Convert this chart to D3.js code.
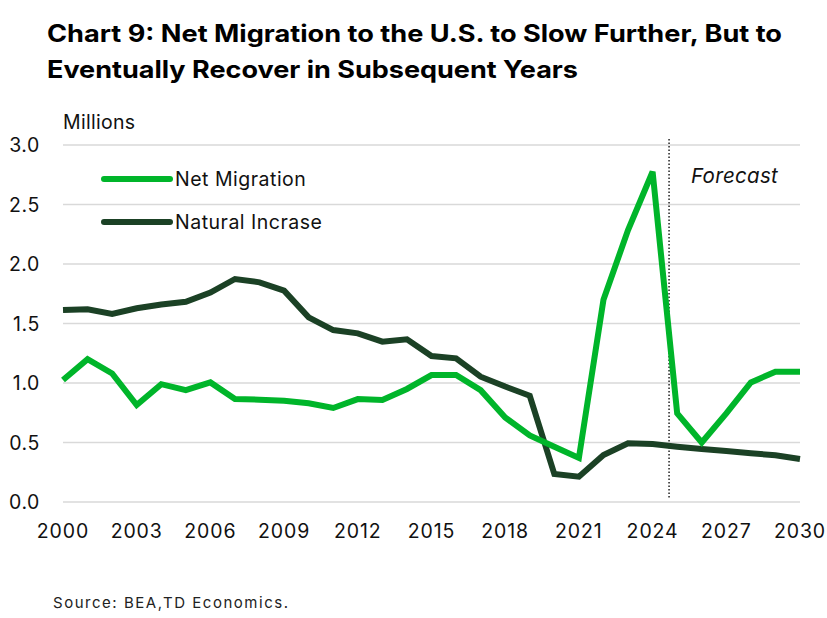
<!DOCTYPE html>
<html><head><meta charset="utf-8">
<script src="https://cdn.jsdelivr.net/npm/d3@7"></script>
<style>body{margin:0;background:#fff}svg{display:block}text{font-family:Inter,"Noto Sans",sans-serif}</style>
</head><body>
<script>
const years = d3.range(2000, 2031);
const netMigration = [1.025,1.20,1.08,0.815,0.99,0.94,1.005,0.865,0.86,0.85,0.83,0.79,0.865,0.857,0.95,1.067,1.067,0.94,0.71,0.56,0.465,0.37,1.70,2.285,2.775,0.745,0.50,0.745,1.005,1.095,1.095];
const naturalIncrease = [1.613,1.62,1.58,1.628,1.66,1.683,1.76,1.874,1.846,1.776,1.552,1.445,1.417,1.347,1.367,1.227,1.207,1.053,0.97,0.893,0.235,0.213,0.395,0.493,0.487,0.465,0.445,0.428,0.41,0.392,0.361];
const yTicks = [0,0.5,1.0,1.5,2.0,2.5,3.0];
const xTicks = [2000,2003,2006,2009,2012,2015,2018,2021,2024,2027,2030];
const forecastStart = 2024.67;
const seriesNames = ["Net Migration","Natural Incrase"];
const colors = ["#00b52a","#1b4125"];

const W = 827, H = 618;
const svg = d3.select("body").append("svg").attr("width",W).attr("height",H);
const x = d3.scaleLinear().domain([2000,2030]).range([63,800]);
const y = d3.scaleLinear().domain([0,3]).range([502,145]);

// title
const title = svg.append("text").attr("font-weight",700).attr("font-size",24).attr("fill","#000");
title.append("tspan").attr("x",47).attr("y",42).attr("textLength",735).attr("lengthAdjust","spacingAndGlyphs")
  .text("Chart 9: Net Migration to the U.S. to Slow Further, But to");
title.append("tspan").attr("x",47).attr("y",78).attr("textLength",531).attr("lengthAdjust","spacingAndGlyphs")
  .text("Eventually Recover in Subsequent Years");

// grid
svg.append("g").selectAll("line").data(yTicks).join("line")
  .attr("x1",63).attr("x2",800).attr("y1",d=>y(d)).attr("y2",d=>y(d))
  .attr("stroke","#d9d9d9").attr("stroke-width",1.5);

// y labels
svg.append("g").selectAll("text").data(yTicks).join("text")
  .attr("x",40).attr("y",d=>y(d)+7).attr("text-anchor","end")
  .attr("font-size",19.5).attr("letter-spacing",0.6).attr("fill","#111").text(d=>d.toFixed(1));
svg.append("text").attr("x",63).attr("y",129).attr("font-size",19.5).attr("letter-spacing",0.3).attr("fill","#111").text("Millions");

// x labels
svg.append("g").selectAll("text").data(xTicks).join("text")
  .attr("x",d=>x(d)).attr("y",538).attr("text-anchor","middle")
  .attr("font-size",19.5).attr("letter-spacing",0.9).attr("fill","#111").text(d=>d);

// forecast line
svg.append("line").attr("x1",x(forecastStart)).attr("x2",x(forecastStart)).attr("y1",139).attr("y2",499)
  .attr("stroke","#222").attr("stroke-width",1.5).attr("stroke-dasharray","1.5,2");
svg.append("text").attr("x",691).attr("y",183).attr("font-size",20.5).attr("font-style","italic").attr("letter-spacing",0.3).attr("fill","#111").text("Forecast");

// lines
const line = d3.line().x((d,i)=>x(years[i])).y(d=>y(d));
[naturalIncrease, netMigration].forEach((s,k)=>{
  const idx = k===0?1:0;
  svg.append("path").attr("d",line(s)).attr("fill","none").attr("stroke",colors[idx])
    .attr("stroke-width",6).attr("stroke-linejoin","miter");
});

// legend
seriesNames.forEach((n,i)=>{
  const ly = 179 + i*43;
  svg.append("line").attr("x1",104).attr("x2",170).attr("y1",ly).attr("y2",ly)
    .attr("stroke",colors[i]).attr("stroke-width",6).attr("stroke-linecap","round");
  svg.append("text").attr("x",175).attr("y",ly+7).attr("font-size",19.5).attr("letter-spacing",0.5).attr("fill","#111").text(n);
});

svg.append("text").attr("x",53).attr("y",608).attr("font-size",15).attr("fill","#222")
  .attr("textLength",235).attr("lengthAdjust","spacing")
  .attr("font-family","'DejaVu Sans',sans-serif").text("Source: BEA,TD Economics.");
</script>
</body></html>
